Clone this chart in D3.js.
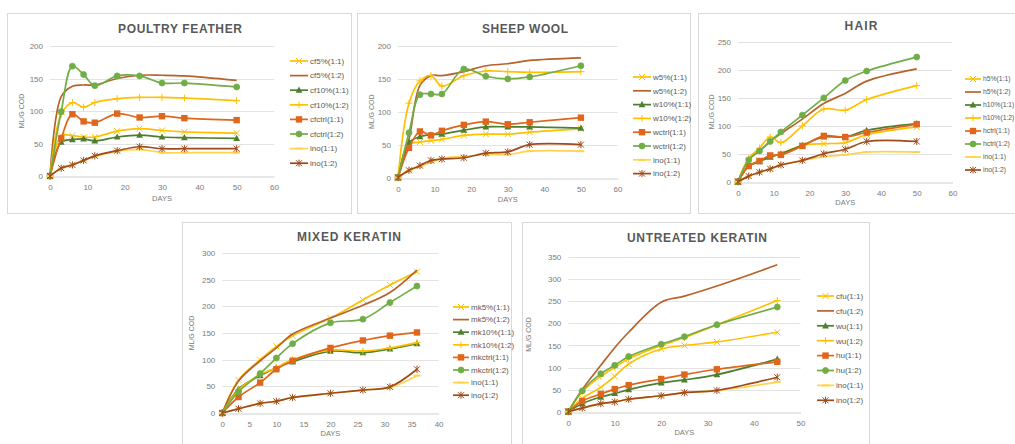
<!DOCTYPE html>
<html>
<head>
<meta charset="utf-8">
<script src="https://cdn.jsdelivr.net/npm/d3@7/dist/d3.min.js"></script>
<style>
  html, body { margin: 0; padding: 0; background: #fff; }
  svg { display: block; font-family: "Liberation Sans", Arial, sans-serif; }
</style>
</head>
<body>
<svg id="chart" width="1015" height="444"></svg>
<script>
// ---------------- DATA ----------------
const daysA = [0, 3, 6, 9, 12, 18, 24, 30, 36, 50];   // poultry feather, sheep wool, hair
const daysMixed = [0, 3, 7, 10, 13, 20, 26, 31, 36];
const daysUntreated = [0, 3, 7, 10, 13, 20, 25, 32, 45];

const featherNames = ["cf5%(1:1)", "cf5%(1:2)", "cf10%(1:1)", "cf10%(1:2)", "cfctrl(1:1)", "cfctrl(1:2)", "ino(1:1)", "ino(1:2)"];
const featherCf5_11  = [0, 62, 62, 60, 60, 69, 73, 70, 68, 66];
const featherCf5_12  = [0, 122, 138, 140, 140, 150, 155, 155, 154, 147];
const featherCf10_11 = [0, 52, 56, 57, 54, 60, 63, 60, 59, 58];
const featherCf10_12 = [0, 95, 113, 106, 113, 119, 121, 121, 120, 116];
const featherCtrl_11 = [0, 58, 95, 84, 82, 96, 90, 92, 89, 86];
const featherCtrl_12 = [0, 99, 169, 156, 139, 154, 154, 143, 143, 137];
const featherIno_11  = [0, 12, 17, 24, 30, 38, 41, 36, 36, 36];
const featherIno_12  = [0, 12, 17, 24, 31, 39, 45, 42, 42, 42];

const woolNames = ["w5%(1:1)", "w5%(1:2)", "w10%(1:1)", "w10%(1:2)", "wctrl(1:1)", "wctrl(1:2)", "ino(1:1)", "ino(1:2)"];
const woolW5_11   = [0, 50, 54, 56, 58, 64, 66, 66, 69, 74];
const woolW5_12   = [0, 58, 140, 155, 155, 161, 170, 173, 178, 182];
const woolW10_11  = [0, 53, 62, 65, 66, 72, 77, 77, 77, 75];
const woolW10_12  = [0, 113, 147, 155, 139, 155, 162, 161, 160, 161];
const woolCtrl_11 = [0, 45, 70, 64, 71, 80, 85, 81, 84, 91];
const woolCtrl_12 = [0, 68, 126, 127, 127, 165, 154, 150, 153, 170];
const woolIno_11  = [0, 10, 17, 23, 29, 32, 35, 35, 40, 40];
const woolIno_12  = [0, 11, 18, 26, 28, 30, 37, 39, 50, 50];

const hairNames = ["h5%(1:1)", "h5%(1:2)", "h10%(1:1)", "h10%(1:2)", "hctrl(1:1)", "hctrl(1:2)", "ino(1:1)", "ino(1:2)"];
const hairH5_11   = [0, 28, 38, 45, 50, 65, 68, 70, 84, 98];
const hairH5_12   = [0, 40, 55, 72, 86, 112, 140, 158, 180, 202];
const hairH10_11  = [0, 28, 36, 44, 50, 65, 80, 80, 92, 104];
const hairH10_12  = [0, 42, 60, 80, 70, 100, 130, 128, 147, 172];
const hairCtrl_11 = [0, 28, 37, 47, 48, 64, 82, 80, 88, 103];
const hairCtrl_12 = [0, 39, 55, 72, 89, 119, 150, 181, 198, 223];
const hairIno_11  = [0, 10, 17, 22, 30, 38, 45, 48, 53, 53];
const hairIno_12  = [0, 10, 17, 23, 30, 38, 50, 58, 72, 72];

const mixedNames = ["mk5%(1:1)", "mk5%(1:2)", "mk10%(1:1)", "mk10%(1:2)", "mkctrl(1:1)", "mkctrl(1:2)", "ino(1:1)", "ino(1:2)"];
const mixedMk5_11   = [0, 62, 100, 125, 145, 178, 212, 240, 265];
const mixedMk5_12   = [0, 60, 98, 122, 148, 178, 202, 226, 268];
const mixedMk10_11  = [0, 45, 70, 85, 96, 116, 113, 120, 130];
const mixedMk10_12  = [0, 43, 72, 85, 100, 118, 116, 122, 132];
const mixedCtrl_11  = [0, 30, 57, 82, 98, 122, 136, 145, 151];
const mixedCtrl_12  = [0, 40, 74, 103, 130, 169, 176, 207, 238];
const mixedIno_11   = [0, 8, 18, 22, 29, 37, 43, 48, 70];
const mixedIno_12   = [0, 8, 18, 22, 29, 37, 43, 49, 82];

const untreatedNames = ["cfu(1:1)", "cfu(1:2)", "wu(1:1)", "wu(1:2)", "hu(1:1)", "hu(1:2)", "ino(1:1)", "ino(1:2)"];
const untreatedCfu_11 = [0, 30, 55, 80, 108, 142, 150, 158, 180];
const untreatedCfu_12 = [0, 50, 105, 145, 180, 248, 262, 285, 333];
const untreatedWu_11  = [0, 18, 33, 41, 50, 65, 72, 84, 119];
const untreatedWu_12  = [0, 45, 80, 100, 120, 150, 168, 197, 252];
const untreatedHu_11  = [0, 24, 40, 51, 60, 74, 84, 96, 113];
const untreatedHu_12  = [0, 47, 86, 105, 125, 153, 170, 197, 237];
const untreatedIno_11 = [0, 8, 18, 22, 28, 36, 43, 48, 67];
const untreatedIno_12 = [0, 8, 18, 22, 28, 36, 43, 48, 78];

const titles = ["POULTRY FEATHER", "SHEEP WOOL", "HAIR", "MIXED KERATIN", "UNTREATED KERATIN"];
const yAxisTitle = "ML/G COD";
const xAxisTitle = "DAYS";

// ---------------- STYLES (per series slot) ----------------
const seriesStyle = [
  { color: "#FFC000", marker: "x" },
  { color: "#B8622A", marker: "none" },
  { color: "#4E7F2E", marker: "triangle" },
  { color: "#FFC000", marker: "plus" },
  { color: "#E0661C", marker: "square" },
  { color: "#70AD47", marker: "circle" },
  { color: "#FFD34D", marker: "dash" },
  { color: "#9E4A1A", marker: "asterisk" }
];

// ---------------- LAYOUT ----------------
const panels = [
  { title: titles[0], days: daysA, names: featherNames,
    series: [featherCf5_11, featherCf5_12, featherCf10_11, featherCf10_12, featherCtrl_11, featherCtrl_12, featherIno_11, featherIno_12],
    box: [7, 13, 344, 200], px: [50, 274], py: [176, 46], xMax: 60, xStep: 10, yMax: 200, yStep: 50,
    titleY: 33, titleX: 180, titleW: 124, legX: 290, legY: 61, legDy: 14.6, legFont: 8, legLine: 18, yLabX: 24, daysY: 201 },
  { title: titles[1], days: daysA, names: woolNames,
    series: [woolW5_11, woolW5_12, woolW10_11, woolW10_12, woolCtrl_11, woolCtrl_12, woolIno_11, woolIno_12],
    box: [357, 13, 333, 200], px: [398, 617.5], py: [177.5, 46], xMax: 60, xStep: 10, yMax: 200, yStep: 50,
    titleY: 33, titleX: 525, titleW: 86, legX: 633, legY: 77, legDy: 13.8, legFont: 8, legLine: 18, yLabX: 374, daysY: 202 },
  { title: titles[2], days: daysA, names: hairNames,
    series: [hairH5_11, hairH5_12, hairH10_11, hairH10_12, hairCtrl_11, hairCtrl_12, hairIno_11, hairIno_12],
    box: [698, 13, 330, 200], px: [738, 952.5], py: [181.7, 42], xMax: 60, xStep: 10, yMax: 250, yStep: 50,
    titleY: 30, titleX: 861, titleW: 33, legX: 965, legY: 79, legDy: 13, legFont: 6.8, legLine: 16, yLabX: 714, daysY: 205 },
  { title: titles[3], days: daysMixed, names: mixedNames,
    series: [mixedMk5_11, mixedMk5_12, mixedMk10_11, mixedMk10_12, mixedCtrl_11, mixedCtrl_12, mixedIno_11, mixedIno_12],
    box: [182, 222, 329, 230], px: [222.3, 438.6], py: [413, 253], xMax: 40, xStep: 5, yMax: 300, yStep: 50,
    titleY: 241, titleX: 349, titleW: 104, legX: 453, legY: 307, legDy: 12.6, legFont: 8, legLine: 16, yLabX: 194, daysY: 436 },
  { title: titles[4], days: daysUntreated, names: untreatedNames,
    series: [untreatedCfu_11, untreatedCfu_12, untreatedWu_11, untreatedWu_12, untreatedHu_11, untreatedHu_12, untreatedIno_11, untreatedIno_12],
    box: [522, 222, 347, 230], px: [568.3, 800.5], py: [411.6, 257.3], xMax: 50, xStep: 10, yMax: 350, yStep: 50,
    titleY: 242, titleX: 697, titleW: 140, legX: 817, legY: 296, legDy: 14.9, legFont: 8, legLine: 17, yLabX: 531, daysY: 435 }
];

const svg = d3.select("#chart");
svg.append("rect").attr("width", 1015).attr("height", 444).attr("fill", "#fff");

function drawMarker(g, type, x, y, color) {
  const s = 3;
  if (type === "none") return;
  if (type === "circle") {
    g.append("circle").attr("cx", x).attr("cy", y).attr("r", 3).attr("fill", color).attr("stroke", color).attr("stroke-width", 0.8);
  } else if (type === "square") {
    g.append("rect").attr("x", x - 3.2).attr("y", y - 3.2).attr("width", 6.4).attr("height", 6.4).attr("fill", color);
  } else if (type === "triangle") {
    g.append("path").attr("d", `M${x},${y - 3.6}L${x + 3.4},${y + 2.6}L${x - 3.4},${y + 2.6}Z`).attr("fill", color);
  } else if (type === "x") {
    g.append("path").attr("d", `M${x - s},${y - s}L${x + s},${y + s}M${x - s},${y + s}L${x + s},${y - s}`)
      .attr("stroke", color).attr("stroke-width", 1);
  } else if (type === "plus") {
    g.append("path").attr("d", `M${x - 3.5},${y}L${x + 3.5},${y}M${x},${y - 3.5}L${x},${y + 3.5}`)
      .attr("stroke", color).attr("stroke-width", 1);
  } else if (type === "dash") {
    g.append("path").attr("d", `M${x - 3.5},${y}L${x + 3.5},${y}`).attr("stroke", color).attr("stroke-width", 2);
  } else if (type === "asterisk") {
    g.append("path").attr("d", `M${x - s},${y - s}L${x + s},${y + s}M${x - s},${y + s}L${x + s},${y - s}M${x},${y - 3.6}L${x},${y + 3.6}`)
      .attr("stroke", color).attr("stroke-width", 1);
  }
}

panels.forEach(p => {
  const g = svg.append("g");
  // frame
  g.append("rect").attr("x", p.box[0] + 0.5).attr("y", p.box[1] + 0.5)
    .attr("width", p.box[2]).attr("height", p.box[3])
    .attr("fill", "#fff").attr("stroke", "#d9d9d9").attr("stroke-width", 1);

  const x = d3.scaleLinear().domain([0, p.xMax]).range(p.px);
  const y = d3.scaleLinear().domain([0, p.yMax]).range(p.py);

  // gridlines
  const yTicks = d3.range(0, p.yMax + 0.001, p.yStep);
  const xTicks = d3.range(0, p.xMax + 0.001, p.xStep);
  g.append("g").selectAll("line").data(yTicks.filter(t => t > 0)).join("line")
    .attr("x1", p.px[0]).attr("x2", p.px[1])
    .attr("y1", d => Math.round(y(d)) + 0.5).attr("y2", d => Math.round(y(d)) + 0.5)
    .attr("stroke", "#e3e3e3").attr("stroke-width", 1);

  // x axis
  const xAxis = g.append("g").attr("transform", `translate(0,${Math.round(y(0)) + 0.5})`)
    .call(d3.axisBottom(x).tickValues(xTicks).tickSize(0).tickPadding(8).tickFormat(d3.format("d")));
  xAxis.select(".domain").attr("stroke", "#d0d0d0");
  xAxis.selectAll("text").attr("fill", "#7a7a7a").attr("font-size", 8);

  // y axis
  const yAxis = g.append("g").attr("transform", `translate(${p.px[0]},0)`)
    .call(d3.axisLeft(y).tickValues(yTicks).tickSize(0).tickPadding(7).tickFormat(d3.format("d")));
  yAxis.select(".domain").remove();
  yAxis.selectAll("text").attr("fill", "#7a7a7a").attr("font-size", 8);

  // title
  g.append("text").attr("x", p.titleX).attr("y", p.titleY).attr("text-anchor", "middle")
    .attr("font-size", 12).attr("font-weight", "bold").attr("fill", "#595959")
    .attr("textLength", p.titleW).attr("lengthAdjust", "spacing").text(p.title);

  // axis titles
  const yMid = (p.py[0] + p.py[1]) / 2;
  g.append("text").attr("transform", `translate(${p.yLabX},${yMid}) rotate(-90)`)
    .attr("text-anchor", "middle").attr("font-size", 7).attr("fill", "#7a7a7a").text(yAxisTitle);
  g.append("text").attr("x", (p.px[0] + p.px[1]) / 2)
    .attr("y", p.daysY).attr("text-anchor", "middle").attr("font-size", 7.5).attr("fill", "#7a7a7a").text(xAxisTitle);

  // series
  const line = d3.line().x(d => x(d[0])).y(d => y(d[1])).curve(d3.curveCatmullRom.alpha(0.5));
  p.series.forEach((vals, i) => {
    const st = seriesStyle[i];
    const pts = p.days.map((d, k) => [d, vals[k]]);
    const sg = g.append("g");
    sg.append("path").attr("d", line(pts)).attr("fill", "none")
      .attr("stroke", st.color).attr("stroke-width", 1.7);
    pts.forEach(pt => drawMarker(sg, st.marker, x(pt[0]), y(pt[1]), st.color));
  });

  // legend
  p.names.forEach((name, i) => {
    const st = seriesStyle[i];
    const ly = p.legY + i * p.legDy;
    const lg = g.append("g");
    lg.append("line").attr("x1", p.legX).attr("x2", p.legX + p.legLine).attr("y1", ly).attr("y2", ly)
      .attr("stroke", st.color).attr("stroke-width", 1.7);
    drawMarker(lg, st.marker, p.legX + p.legLine / 2, ly, st.color);
    lg.append("text").attr("x", p.legX + p.legLine + 2).attr("y", ly + p.legFont * 0.35).attr("font-size", p.legFont)
      .attr("fill", "#595959").text(name);
  });
});
</script>
</body>
</html>
